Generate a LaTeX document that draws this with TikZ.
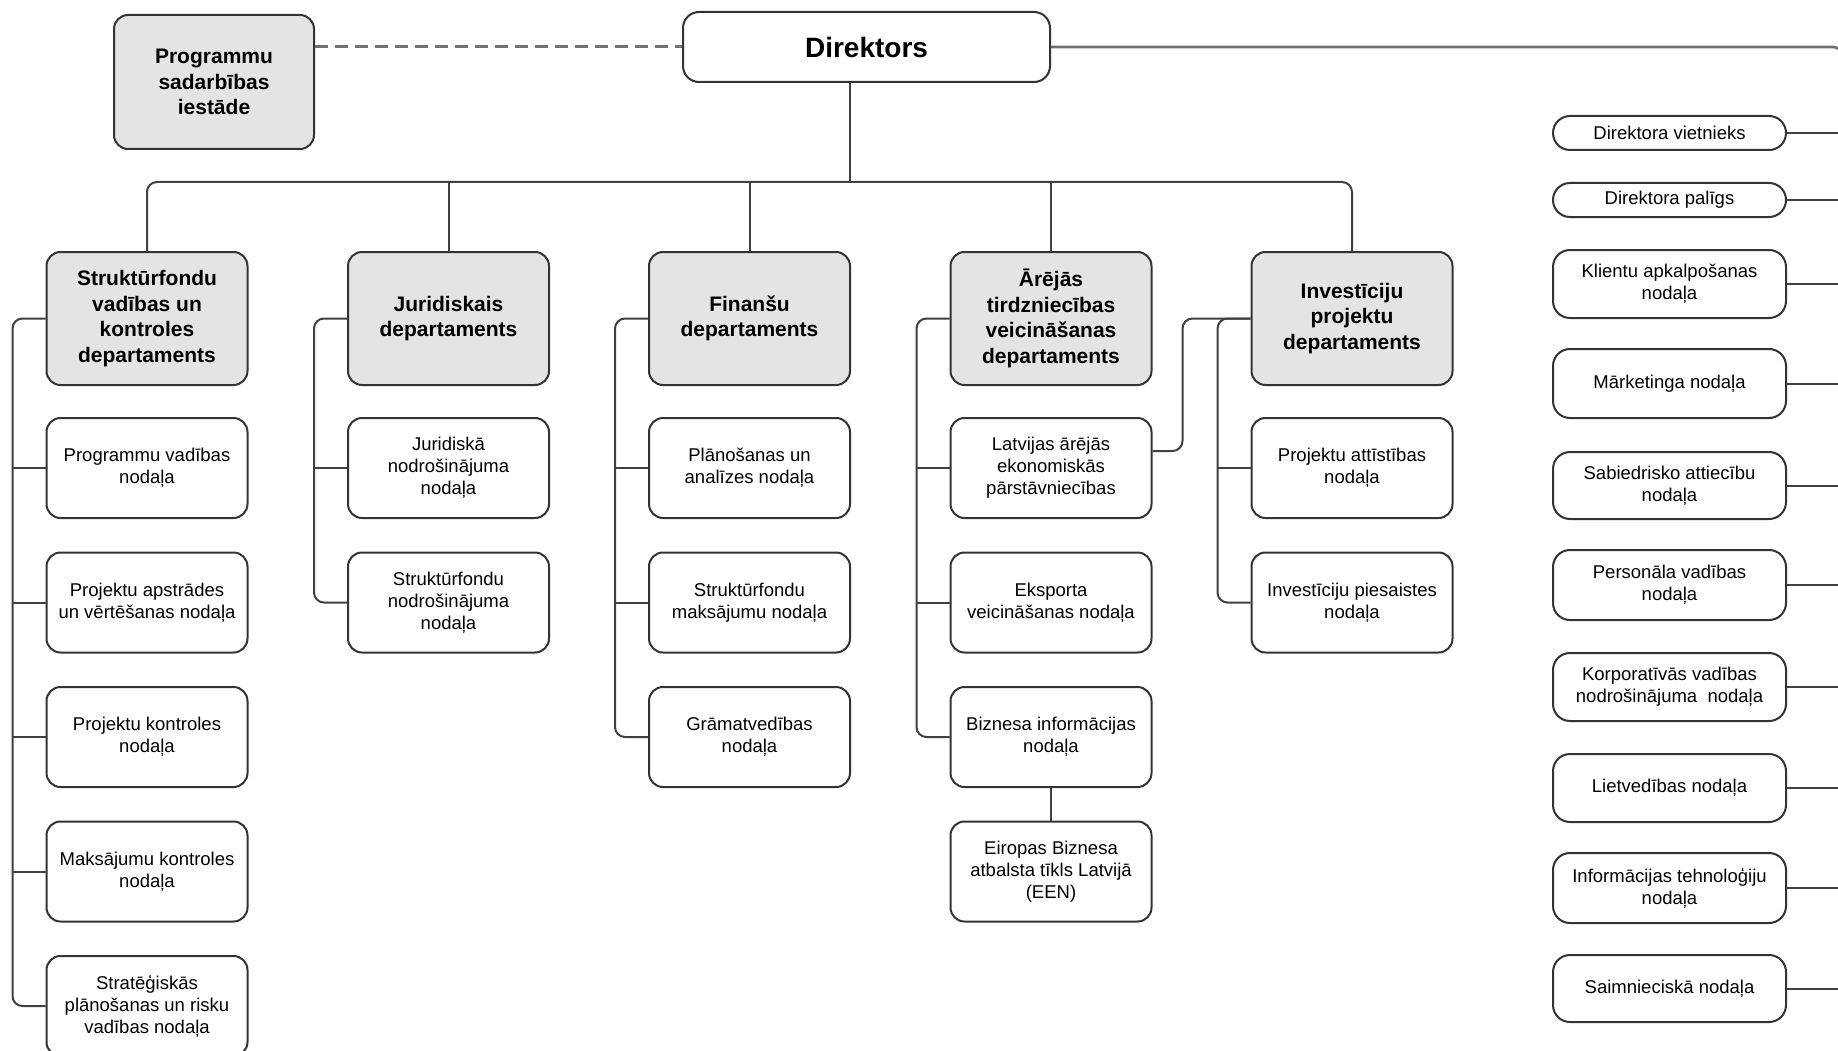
\documentclass[tikz,border=0pt]{standalone}
\usepackage{fontspec}
\setmainfont{Liberation Sans}
\usetikzlibrary{calc}
\definecolor{bordc}{HTML}{333333}
\definecolor{linec}{HTML}{404040}
\definecolor{deptfill}{HTML}{E4E4E4}
\definecolor{topline}{HTML}{707070}
\begin{document}
\begin{tikzpicture}[x=1pt,y=-1pt,
  base/.style={draw=bordc, line width=2pt, rounded corners=14pt, align=center, inner sep=2pt, fill=white},
  sub/.style={base, minimum width=201pt, minimum height=100pt, font=\fontsize{18.5}{22}\selectfont},
  dept/.style={base, fill=deptfill, minimum width=201pt, minimum height=133pt, font=\bfseries\fontsize{21}{25.5}\selectfont},
  rsub/.style={base, rounded corners=17pt, minimum width=233pt, font=\fontsize{18.5}{22}\selectfont},
  conn/.style={draw=linec, line width=2pt, rounded corners=10pt},
  dashconn/.style={draw=topline, line width=3pt, dash pattern=on 13pt off 7pt},
  topconn/.style={draw=topline, line width=2.6pt, rounded corners=10pt},
]
\useasboundingbox[fill=white] (0,0) rectangle (1838,1051);

% top level
\node[base, minimum width=367pt, minimum height=70pt, rounded corners=16pt, font=\bfseries\fontsize{28}{34}\selectfont] (dir) at (866.5,47) {Direktors};
\node[base, fill=deptfill, minimum width=200pt, minimum height=134pt, font=\bfseries\fontsize{21}{25.5}\selectfont] (prog) at (214,82) {Programmu\\sadarbības\\iestāde};

% departments
\node[dept] (d1) at (147,318.5) {Struktūrfondu\\vadības un\\kontroles\\departaments};
\node[dept] (d2) at (448.5,318.5) {Juridiskais\\departaments};
\node[dept] (d3) at (749.5,318.5) {Finanšu\\departaments};
\node[dept] (d4) at (1051,318.5) {Ārējās\\tirdzniecības\\veicināšanas\\departaments};
\node[dept] (d5) at (1352,318.5) {Investīciju\\projektu\\departaments};

% column 1
\node[sub] (c1a) at (147,468) {Programmu vadības\\nodaļa};
\node[sub] (c1b) at (147,602.5) {Projektu apstrādes\\un vērtēšanas nodaļa};
\node[sub] (c1c) at (147,737) {Projektu kontroles\\nodaļa};
\node[sub] (c1d) at (147,871.5) {Maksājumu kontroles\\nodaļa};
\node[sub] (c1e) at (147,1006) {Stratēģiskās\\plānošanas un risku\\vadības nodaļa};

% column 2
\node[sub] (c2a) at (448.5,468) {Juridiskā\\nodrošinājuma\\nodaļa};
\node[sub] (c2b) at (448.5,602.5) {Struktūrfondu\\nodrošinājuma\\nodaļa};

% column 3
\node[sub] (c3a) at (749.5,468) {Plānošanas un\\analīzes nodaļa};
\node[sub] (c3b) at (749.5,602.5) {Struktūrfondu\\maksājumu nodaļa};
\node[sub] (c3c) at (749.5,737) {Grāmatvedības\\nodaļa};

% column 4
\node[sub] (c4a) at (1051,468) {Latvijas ārējās\\ekonomiskās\\pārstāvniecības};
\node[sub] (c4b) at (1051,602.5) {Eksporta\\veicināšanas nodaļa};
\node[sub] (c4c) at (1051,737) {Biznesa informācijas\\nodaļa};
\node[sub] (c4d) at (1051,871.5) {Eiropas Biznesa\\atbalsta tīkls Latvijā\\(EEN)};

% column 5
\node[sub] (c5a) at (1352,468) {Projektu attīstības\\nodaļa};
\node[sub] (c5b) at (1352,602.5) {Investīciju piesaistes\\nodaļa};

% right column
\node[rsub, minimum height=34pt] (r1) at (1669.5,133) {Direktora vietnieks};
\node[rsub, minimum height=34pt] (r2) at (1669.5,200) {Direktora palīgs};
\node[rsub, minimum height=68pt] (r3) at (1669.5,284) {Klientu apkalpošanas\\nodaļa};
\node[rsub, minimum height=69pt] (r4) at (1669.5,383.5) {Mārketinga nodaļa};
\node[rsub, minimum height=67pt] (r5) at (1669.5,485.5) {Sabiedrisko attiecību\\nodaļa};
\node[rsub, minimum height=70pt] (r6) at (1669.5,585) {Personāla vadības\\nodaļa};
\node[rsub, minimum height=68pt] (r7) at (1669.5,687) {Korporatīvās vadības\\nodrošinājuma\ \ nodaļa};
\node[rsub, minimum height=68pt] (r8) at (1669.5,788) {Lietvedības nodaļa};
\node[rsub, minimum height=70pt] (r9) at (1669.5,888) {Informācijas tehnoloģiju\\nodaļa};
\node[rsub, minimum height=67pt] (r10) at (1669.5,988.5) {Saimnieciskā nodaļa};

% helper coordinates
\coordinate (busy) at (0,182);
\coordinate (dstem) at (850,0);
\coordinate (rbx) at (1843,0);

% connectors: top
\draw[dashconn] (prog.east |- dir.west) -- (dir.west);
\draw[topconn] (dir.east) -- (dir.east -| rbx) -- (r10.east -| rbx);
\foreach \r in {r1,r2,r3,r4,r5,r6,r7,r8,r9,r10}
  \draw[conn] (\r.east) -- (\r.east -| rbx);

\draw[conn] (dir.south -| dstem) -- (busy -| dstem);
\draw[conn] (d1.north) -- (d1.north |- busy) -- (d5.north |- busy) -- (d5.north);
\foreach \d in {d2,d3,d4}
  \draw[conn] (\d.north) -- (\d.north |- busy);

% brackets
\draw[conn] (d1.west) -- ++(-33,0) |- (c1e.west);
\foreach \c in {c1a,c1b,c1c,c1d}
  \draw[conn] (\c.west) -- ++(-33,0);
\draw[conn] (d2.west) -- ++(-33,0) |- (c2b.west);
\draw[conn] (c2a.west) -- ++(-33,0);
\draw[conn] (d3.west) -- ++(-33,0) |- (c3c.west);
\foreach \c in {c3a,c3b}
  \draw[conn] (\c.west) -- ++(-33,0);
\draw[conn] (d4.west) -- ++(-33,0) |- (c4c.west);
\foreach \c in {c4a,c4b}
  \draw[conn] (\c.west) -- ++(-33,0);
\draw[conn] (c4c.south) -- (c4d.north);
\draw[conn] (d5.west) -- ++(-33,0) |- (c5b.west);
\draw[conn] (c5a.west) -- ++(-33,0);
\draw[conn] ([yshift=17pt]c4a.east) -- ++(30,0) |- (d5.west);
\end{tikzpicture}
\end{document}
